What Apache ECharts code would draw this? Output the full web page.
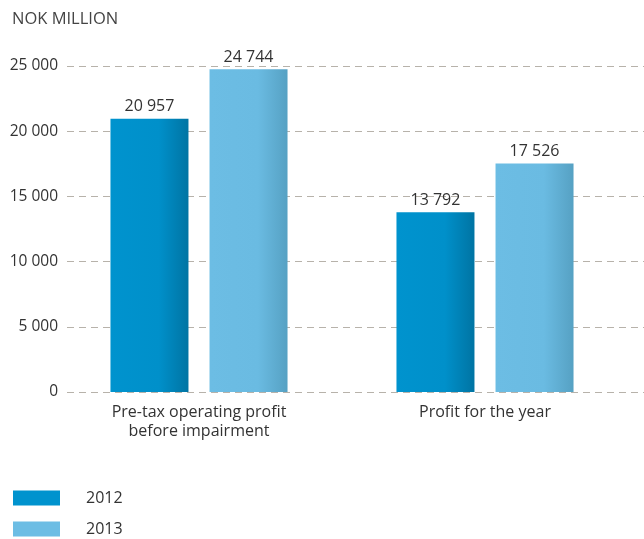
<!DOCTYPE html>
<html>
<head>
<meta charset="utf-8">
<script src="https://cdn.jsdelivr.net/npm/echarts@6/dist/echarts.min.js"></script>
<style>
  html, body { margin: 0; padding: 0; background: #fff; }
  #chart { width: 644px; height: 539px; }
</style>
</head>
<body>
<div id="chart"></div>
<script>
// Profit figures, NOK million
const categories = ['Pre-tax operating profit\nbefore impairment', 'Profit for the year'];
const years = ['2012', '2013'];
const values2012 = [20957, 13792];
const values2013 = [24744, 17526];
const yTicks = [0, 5000, 10000, 15000, 20000, 25000];

const FONT = '"Open Sans", "Noto Sans", sans-serif';
const TEXT = '#333333';
const SWATCH = ['#0093ce', '#6cbde4'];

function fmt(v) {
  return String(v).replace(/\B(?=(\d{3})+(?!\d))/g, ' ');
}

function shade(c0, c1, c2) {
  return new echarts.graphic.LinearGradient(0, 0, 1, 0, [
    { offset: 0, color: c0 },
    { offset: 0.62, color: c1 },
    { offset: 1, color: c2 }
  ]);
}

function legendFor(i, top) {
  return {
    orient: 'vertical',
    left: 13,
    top: top,
    padding: 0,
    itemWidth: 47,
    itemHeight: 15,
    icon: 'rect',
    data: [{ name: years[i], itemStyle: { color: SWATCH[i] } }],
    textStyle: { fontFamily: FONT, fontSize: 16, color: TEXT, padding: [0, 0, 0, 21] }
  };
}

const chart = echarts.init(document.getElementById('chart'), null, { renderer: 'canvas' });

const yMin = yTicks[0];
const yMax = yTicks[yTicks.length - 1];
const yStep = yTicks[1] - yTicks[0];

const valueLabel = {
  show: true, position: 'top', distance: 4,
  fontFamily: FONT, fontSize: 16, color: TEXT,
  formatter: p => fmt(p.value)
};

chart.setOption({
  animation: false,
  backgroundColor: '#ffffff',
  textStyle: { fontFamily: FONT },
  title: {
    text: 'NOK MILLION',
    left: 7,
    top: 6,
    textStyle: { fontFamily: FONT, fontSize: 16.5, fontWeight: 'normal', color: '#444444' }
  },
  legend: [legendFor(0, 490), legendFor(1, 521)],
  grid: [
    // bars
    { left: 56, right: 16, top: 66, bottom: 147 },
    // value scale and dashed guides
    { left: 67, right: 0, top: 66, bottom: 147 }
  ],
  xAxis: [
    {
      type: 'category',
      gridIndex: 0,
      data: categories,
      axisLine: { show: false },
      axisTick: { show: false },
      axisLabel: { fontFamily: FONT, fontSize: 16, color: TEXT, lineHeight: 19, margin: 11 }
    },
    {
      type: 'value',
      gridIndex: 1,
      show: false
    }
  ],
  yAxis: [
    {
      type: 'value',
      gridIndex: 0,
      min: yMin, max: yMax, interval: yStep,
      show: false,
      splitLine: { show: false }
    },
    {
      type: 'value',
      gridIndex: 1,
      min: yMin, max: yMax, interval: yStep,
      axisLine: { show: false },
      axisTick: { show: false },
      axisLabel: {
        fontFamily: FONT, fontSize: 15.5, color: TEXT, margin: 9,
        formatter: v => fmt(v)
      },
      splitLine: {
        show: true,
        lineStyle: { color: '#b7b2aa', width: 1, type: [7, 5] }
      }
    }
  ],
  series: [
    {
      name: years[0],
      type: 'bar',
      xAxisIndex: 0,
      yAxisIndex: 0,
      data: values2012,
      barWidth: 78,
      barGap: '27%',
      itemStyle: { color: shade('#0093ce', '#0090ca', '#0074a3') },
      label: valueLabel,
      z: 3
    },
    {
      name: years[1],
      type: 'bar',
      xAxisIndex: 0,
      yAxisIndex: 0,
      data: values2013,
      barWidth: 78,
      barGap: '27%',
      itemStyle: { color: shade('#6cbde4', '#6abbe2', '#56a1c3') },
      label: valueLabel,
      z: 3
    }
  ]
});
</script>
</body>
</html>
